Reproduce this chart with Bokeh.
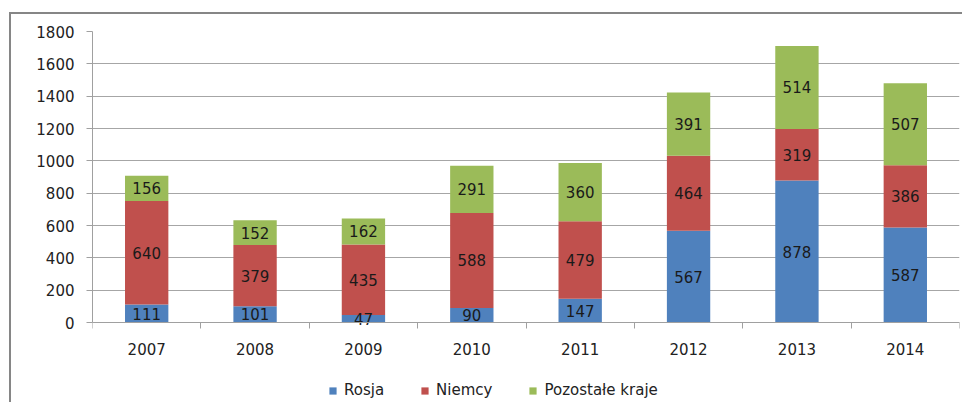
from bokeh.plotting import figure
from bokeh.models import Range1d, FixedTicker, Legend, LegendItem, ColumnDataSource
from bokeh.core.properties import value
from bokeh.embed import file_html
from bokeh.resources import INLINE

years = ["2007", "2008", "2009", "2010", "2011", "2012", "2013", "2014"]
rosja = [111, 101, 47, 90, 147, 567, 878, 587]
niemcy = [640, 379, 435, 588, 479, 464, 319, 386]
pozostale = [156, 152, 162, 291, 360, 391, 514, 507]
series_names = ["Rosja", "Niemcy", "Pozostałe kraje"]
y_ticks = [0, 200, 400, 600, 800, 1000, 1200, 1400, 1600, 1800]

colors = ["#4F81BD", "#C0504D", "#9BBB59"]
FONT = "DejaVu Sans"

PLOT_H = 291          # pixels for 0..1800
EXTRA_H = 80          # pixels below zero for the legend
y_max = y_ticks[-1]
y_min = -EXTRA_H * y_max / PLOT_H

xs = [i + 1 for i in range(len(years))]
src = ColumnDataSource(dict(x=xs, Rosja=rosja, Niemcy=niemcy, Pozostale=pozostale))

p = figure(
    frame_width=867, frame_height=PLOT_H + EXTRA_H,
    min_border_left=81, min_border_top=17, min_border_right=3, min_border_bottom=0,
    x_range=Range1d(0.5, len(years) + 0.5), y_range=Range1d(y_min, y_max),
    output_backend="svg", toolbar_location=None,
)
p.styles = {"margin-left": "9px", "margin-top": "12px",
            "border-left": "2px solid #868686", "border-top": "2px solid #868686"}
p.outline_line_color = None
p.background_fill_color = "white"
p.border_fill_color = "white"

renderers = p.vbar_stack(["Rosja", "Niemcy", "Pozostale"], x="x", width=0.4,
                         color=colors, line_color=None, source=src)

# labels
bottoms = [0] * len(years)
for vals in (rosja, niemcy, pozostale):
    centers = [b + v / 2 for b, v in zip(bottoms, vals)]
    p.text(x=xs, y=centers, text=[str(v) for v in vals],
           text_align="center", text_baseline="middle",
           text_font=value(FONT), text_font_size="15px", text_color="#1a1a1a")
    bottoms = [b + v for b, v in zip(bottoms, vals)]

# y axis
p.yaxis.ticker = FixedTicker(ticks=y_ticks)
p.yaxis.bounds = (0, y_max)
p.yaxis.axis_line_color = "#a0a0a0"
p.yaxis.major_tick_line_color = "#a0a0a0"
p.yaxis.major_tick_out = 6
p.yaxis.major_tick_in = 0
p.yaxis.minor_tick_line_color = None
p.yaxis.major_label_text_font = FONT
p.yaxis.major_label_text_font_size = "15px"
p.yaxis.major_label_text_color = "#222222"
p.yaxis.major_label_standoff = 12

# x axis (drawn at y = 0)
p.xaxis.fixed_location = 0
p.xaxis.ticker = FixedTicker(ticks=xs, minor_ticks=[x - 0.5 for x in xs] + [xs[-1] + 0.5])
p.xaxis.major_label_overrides = {x: y for x, y in zip(xs, years)}
p.xaxis.axis_line_color = "#a0a0a0"
p.xaxis.major_tick_line_color = None
p.xaxis.major_tick_out = 0
p.xaxis.major_tick_in = 0
p.xaxis.minor_tick_line_color = "#a0a0a0"
p.xaxis.minor_tick_out = 6
p.xaxis.minor_tick_in = 0
p.xaxis.major_label_text_font = FONT
p.xaxis.major_label_text_font_size = "15px"
p.xaxis.major_label_text_color = "#222222"
p.xaxis.major_label_standoff = 14

p.xgrid.grid_line_color = None
p.ygrid.grid_line_color = "#a6a6a6"
p.ygrid.ticker = FixedTicker(ticks=y_ticks)

legend = Legend(
    items=[LegendItem(label=n, renderers=[r]) for n, r in zip(series_names, renderers)],
    orientation="horizontal", location=(236, 3),
    label_text_font=FONT, label_text_font_size="15px", label_text_color="#222222",
    glyph_width=9, glyph_height=9, spacing=36, label_standoff=7,
    border_line_color=None, background_fill_alpha=0, margin=0, padding=2,
)
p.add_layout(legend, "center")

open("out.html", "w").write(file_html(p, INLINE))
